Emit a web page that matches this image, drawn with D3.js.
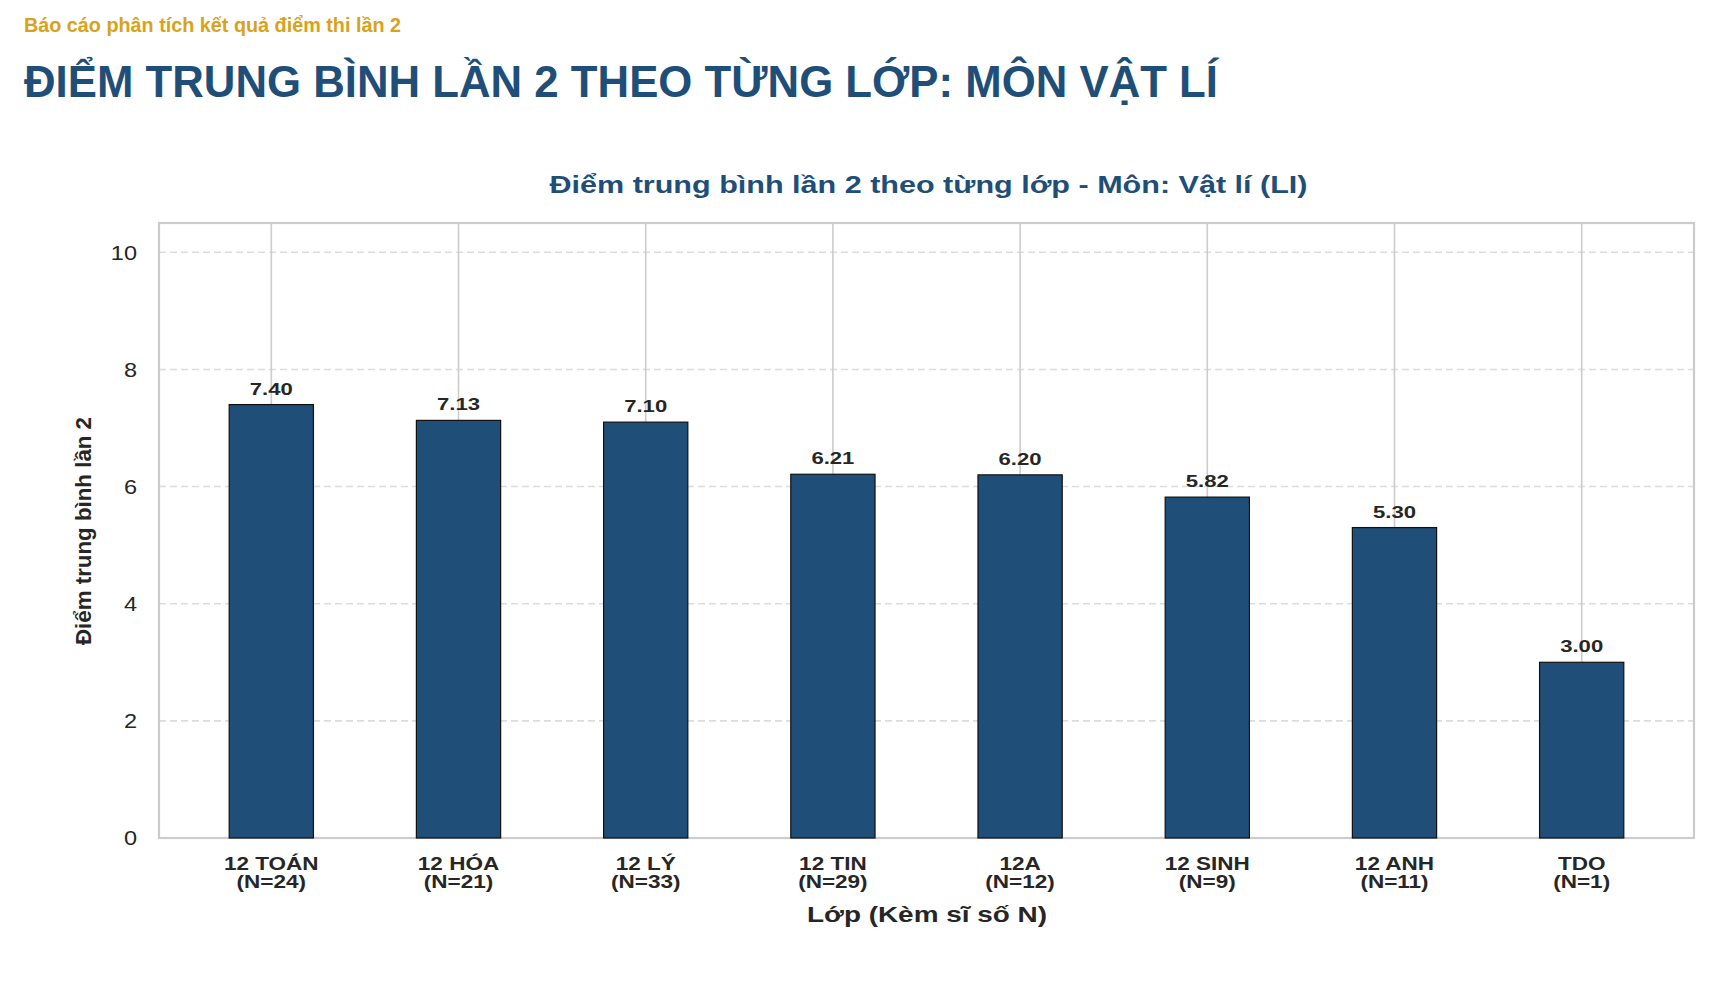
<!DOCTYPE html>
<html>
<head>
<meta charset="utf-8">
<script src="https://cdn.jsdelivr.net/npm/d3@7"></script>
<style>
  html, body { margin: 0; padding: 0; background: #fff; }
  svg text { font-family: "Liberation Sans", Arial, sans-serif; }
</style>
</head>
<body>
<div id="chart"></div>
<script>
// data
const classes = ["12 TOÁN", "12 HÓA", "12 LÝ", "12 TIN", "12A", "12 SINH", "12 ANH", "TDO"];
const counts = [24, 21, 33, 29, 12, 9, 11, 1];
const averages = [7.40, 7.13, 7.10, 6.21, 6.20, 5.82, 5.30, 3.00];
const yTicks = [0, 2, 4, 6, 8, 10];

const W = 1716, H = 984;
// plot box
const plot = {left: 159, right: 1694, top: 223, bottom: 838};
const navy = "#1f4e79";

// the chart text in the picture is a bit wider than the font, stretch it
function widen(sel, k) {
  sel.each(function() {
    const len = this.getComputedTextLength();
    d3.select(this)
      .attr("textLength", len * k)
      .attr("lengthAdjust", "spacingAndGlyphs");
  });
}

const svg = d3.select("#chart")
  .append("svg")
  .attr("width", W)
  .attr("height", H);

// page header
svg.append("text")
  .attr("x", 24).attr("y", 32)
  .attr("font-size", 20).attr("font-weight", "bold")
  .attr("fill", "#d9a21b")
  .attr("textLength", 377).attr("lengthAdjust", "spacingAndGlyphs")
  .text("Báo cáo phân tích kết quả điểm thi lần 2");

svg.append("text")
  .attr("x", 24).attr("y", 97)
  .attr("font-size", 45).attr("font-weight", "bold")
  .attr("fill", navy)
  .attr("textLength", 1194).attr("lengthAdjust", "spacingAndGlyphs")
  .text("ĐIỂM TRUNG BÌNH LẦN 2 THEO TỪNG LỚP: MÔN VẬT LÍ");

// scales
const x = d3.scalePoint()
  .domain(classes)
  .range([plot.left, plot.right])
  .padding(0.6);

const y = d3.scaleLinear()
  .domain([0, 10.5])
  .range([plot.bottom, plot.top]);

const barW = x.step() * 0.45;

// grid: dashed horizontal, solid vertical
svg.append("g")
  .selectAll("line")
  .data(yTicks)
  .join("line")
  .attr("x1", plot.left).attr("x2", plot.right)
  .attr("y1", d => y(d)).attr("y2", d => y(d))
  .attr("stroke", "#dcdcdc")
  .attr("stroke-width", 1.6)
  .attr("stroke-dasharray", "7,4");

svg.append("g")
  .selectAll("line")
  .data(classes)
  .join("line")
  .attr("x1", d => x(d)).attr("x2", d => x(d))
  .attr("y1", plot.top).attr("y2", plot.bottom)
  .attr("stroke", "#cccccc")
  .attr("stroke-width", 1.6);

// frame
svg.append("rect")
  .attr("x", plot.left).attr("y", plot.top)
  .attr("width", plot.right - plot.left).attr("height", plot.bottom - plot.top)
  .attr("fill", "none")
  .attr("stroke", "#cccccc")
  .attr("stroke-width", 2.2);

// y axis labels
const yAxis = svg.append("g")
  .attr("transform", `translate(${plot.left},0)`)
  .call(d3.axisLeft(y).tickValues(yTicks).tickSize(0).tickPadding(22));
yAxis.select(".domain").remove();
yAxis.selectAll("text")
  .attr("font-size", 21)
  .attr("fill", "#262626")
  .style("font-family", "'Liberation Sans', Arial, sans-serif")
  .call(widen, 1.12);

// bars
svg.append("g")
  .selectAll("rect")
  .data(averages)
  .join("rect")
  .attr("x", (d, i) => x(classes[i]) - barW / 2)
  .attr("y", d => y(d))
  .attr("width", barW)
  .attr("height", d => y(0) - y(d))
  .attr("fill", navy)
  .attr("stroke", "#111")
  .attr("stroke-width", 1.2);

// value labels
svg.append("g")
  .selectAll("text")
  .data(averages)
  .join("text")
  .attr("x", (d, i) => x(classes[i]))
  .attr("y", d => y(d) - 10)
  .attr("text-anchor", "middle")
  .attr("font-size", 17)
  .attr("font-weight", "bold")
  .attr("fill", "#262626")
  .text(d => d.toFixed(2))
  .call(widen, 1.3);

// x tick labels, two lines
const xg = svg.append("g")
  .attr("font-size", 18)
  .attr("font-weight", "bold")
  .attr("fill", "#262626")
  .attr("text-anchor", "middle");
xg.selectAll("text.name")
  .data(classes)
  .join("text")
  .attr("class", "name")
  .attr("x", d => x(d)).attr("y", 870)
  .text(d => d)
  .call(widen, 1.25);
xg.selectAll("text.n")
  .data(counts)
  .join("text")
  .attr("class", "n")
  .attr("x", (d, i) => x(classes[i])).attr("y", 888)
  .text(d => `(N=${d})`)
  .call(widen, 1.25);

// chart title
svg.append("text")
  .attr("x", (plot.left + plot.right) / 2 + 2).attr("y", 193)
  .attr("text-anchor", "middle")
  .attr("font-size", 23).attr("font-weight", "bold")
  .attr("fill", navy)
  .attr("textLength", 758).attr("lengthAdjust", "spacingAndGlyphs")
  .text("Điểm trung bình lần 2 theo từng lớp - Môn: Vật lí (LI)");

// axis titles
svg.append("text")
  .attr("x", 927).attr("y", 922)
  .attr("text-anchor", "middle")
  .attr("font-size", 22).attr("font-weight", "bold")
  .attr("fill", "#262626")
  .attr("textLength", 240).attr("lengthAdjust", "spacingAndGlyphs")
  .text("Lớp (Kèm sĩ số N)");

svg.append("text")
  .attr("transform", `translate(91,${(417 + 645) / 2}) rotate(-90)`)
  .attr("text-anchor", "middle")
  .attr("font-size", 22).attr("font-weight", "bold")
  .attr("fill", "#262626")
  .attr("textLength", 228).attr("lengthAdjust", "spacingAndGlyphs")
  .text("Điểm trung bình lần 2");
</script>
</body>
</html>
